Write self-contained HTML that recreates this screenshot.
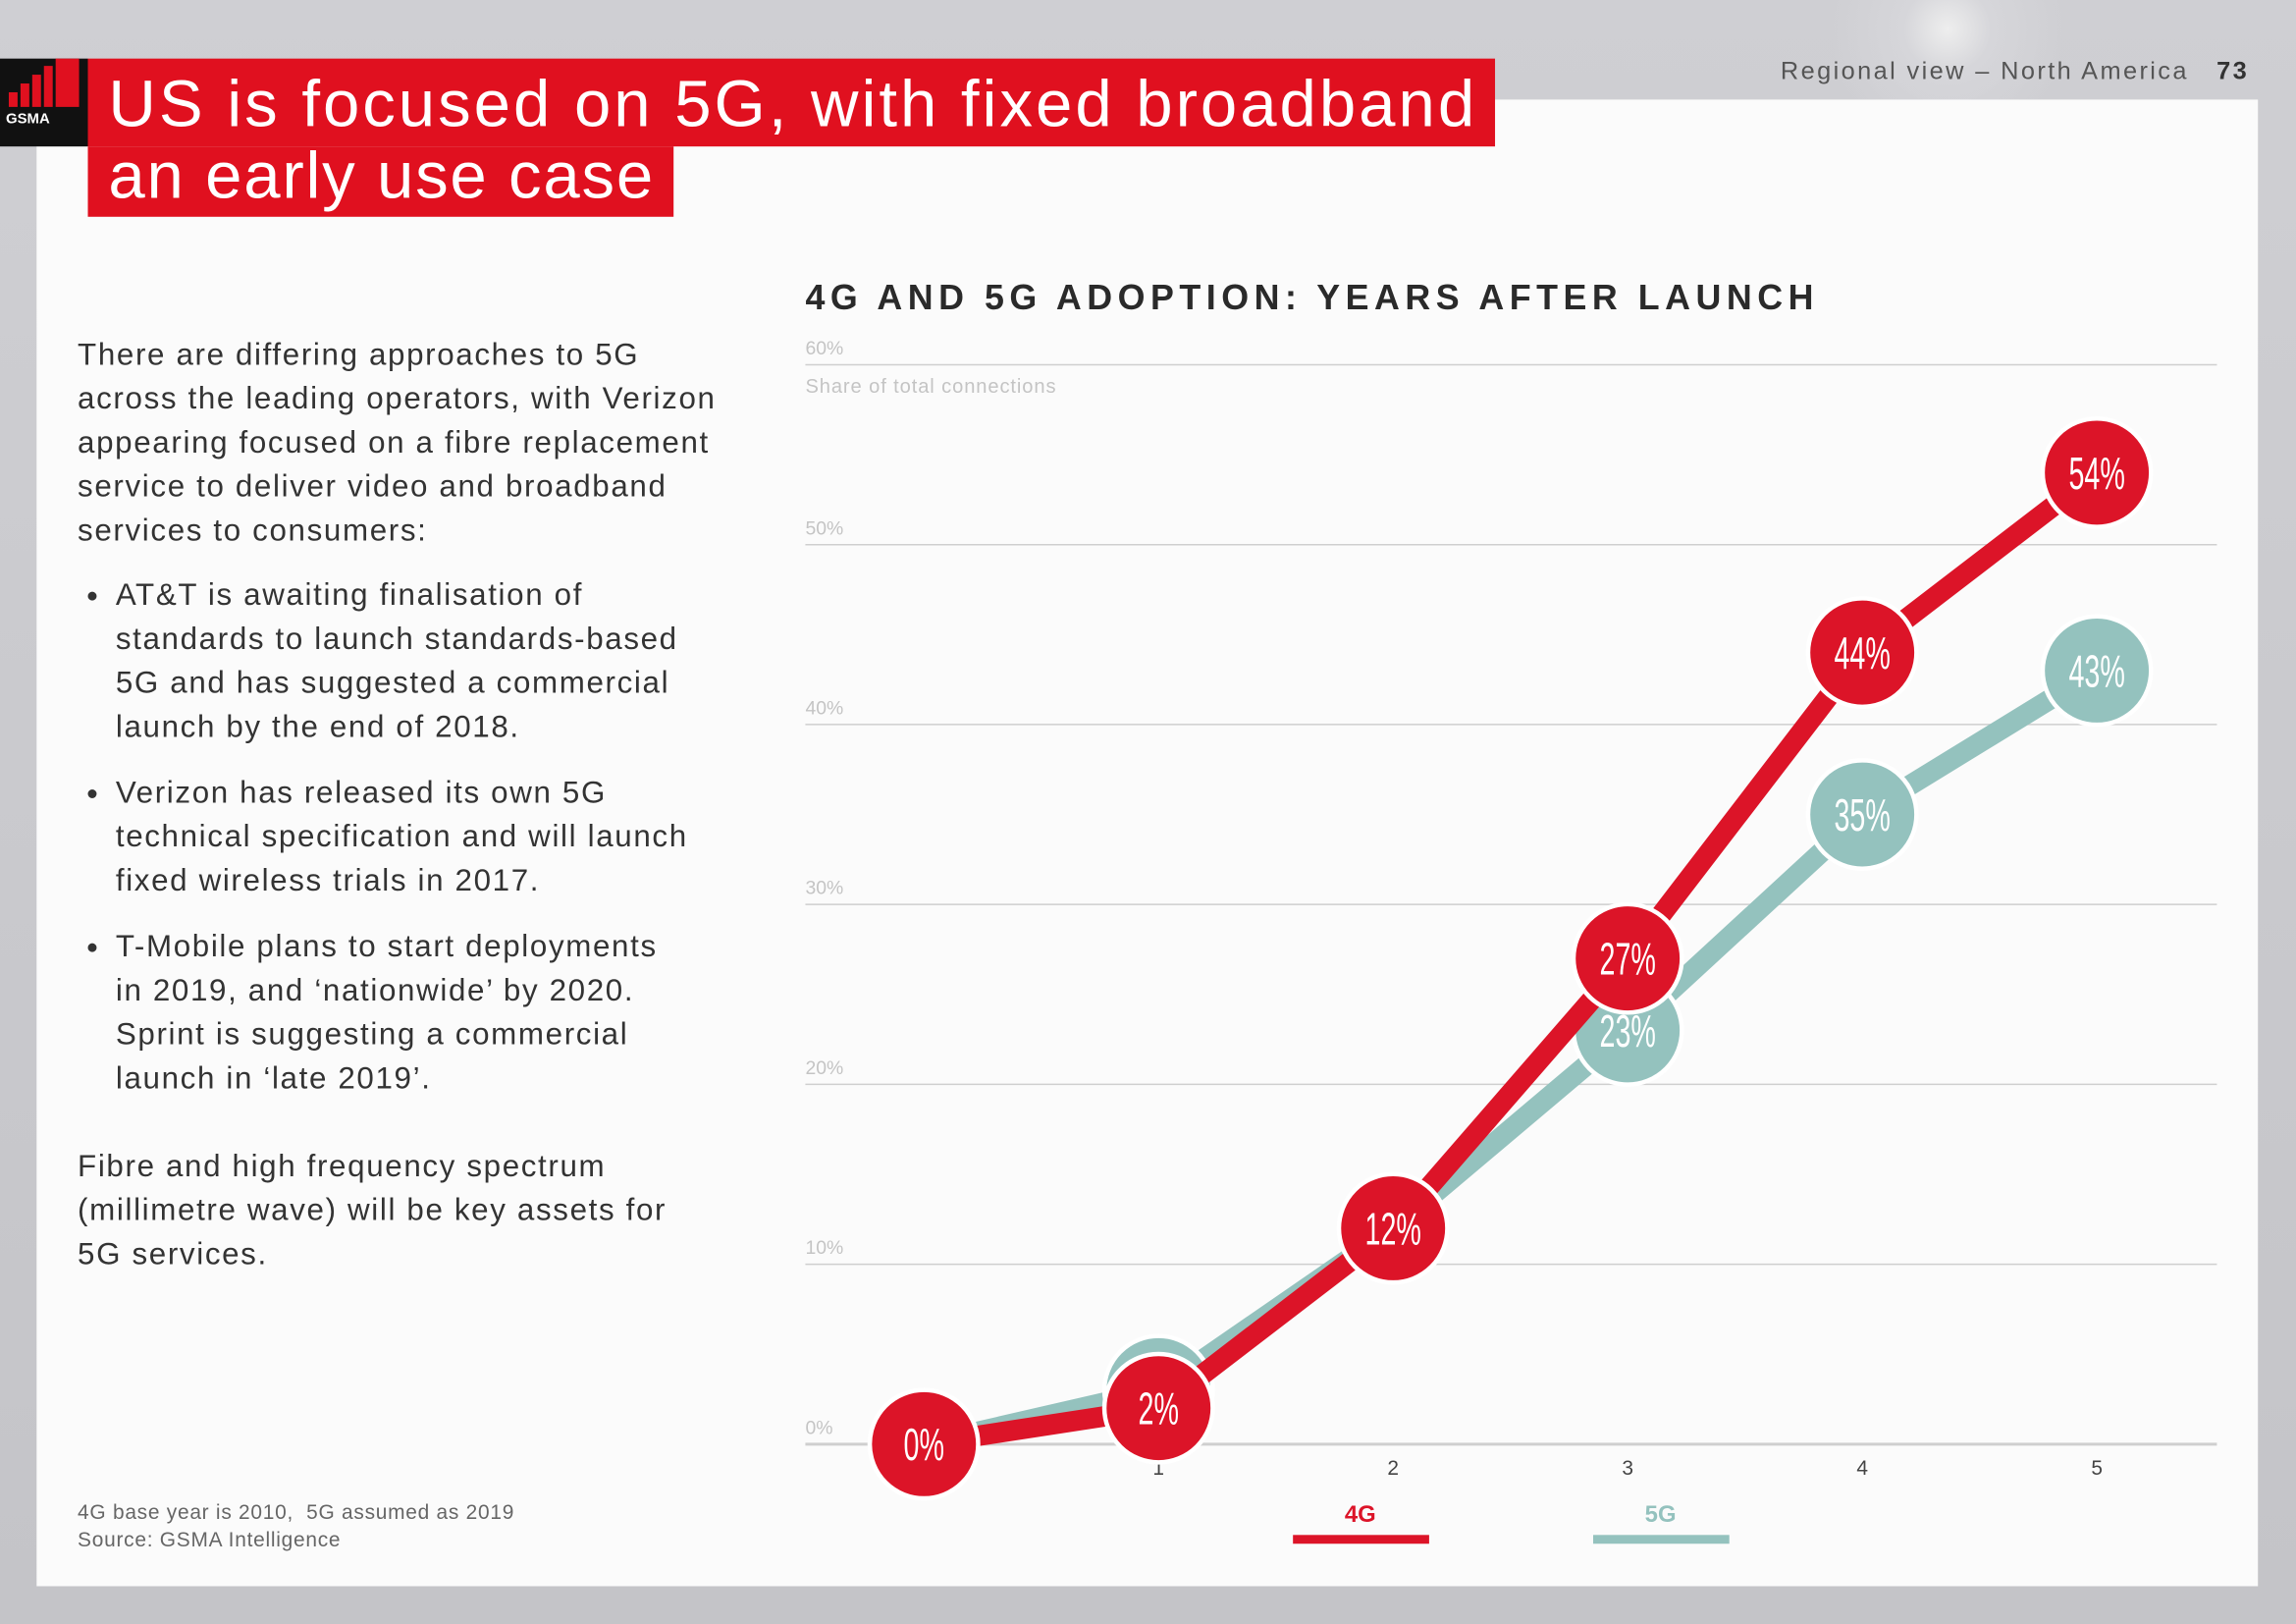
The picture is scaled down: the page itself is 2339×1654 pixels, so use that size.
<!DOCTYPE html>
<html><head><meta charset="utf-8"><style>
html,body{margin:0;padding:0;}
body{width:2339px;height:1654px;overflow:hidden;background:#c9c9cd;}
#stage{position:absolute;left:0;top:0;width:1568px;height:1109px;transform:scale(1.49171);transform-origin:0 0;font-family:"Liberation Sans",sans-serif;
background:radial-gradient(circle at 1330px 20px,#eee 0,#d6d6da 30px,rgba(0,0,0,0) 80px),linear-gradient(#cfcfd3,#c4c4c8);}
.abs{position:absolute;}
#panel{left:25px;top:68px;width:1517px;height:1015px;background:#fbfbfb;}
.t{color:#fff;font-size:45px;font-weight:300;white-space:nowrap;line-height:50px;letter-spacing:2px;}
#body p{margin:0;}
#body{left:53px;top:228px;width:480px;font-size:21px;line-height:30px;color:#333;white-space:nowrap;letter-spacing:1.1px;}
ul{margin:14px 0 0 0;padding-left:26px;}
li{margin-bottom:15px;}
</style></head><body>
<div id="stage">
<div class="abs" id="panel"></div>
<div class="abs" style="left:0;top:40px;width:60px;height:60px;background:#111">
 <div class="abs" style="left:4px;top:36px;color:#fff;font-size:10px;font-weight:bold">GSMA</div>
 <div class="abs" style="left:6px;top:23px;width:6px;height:10px;background:#e0101f"></div>
 <div class="abs" style="left:14px;top:17px;width:6px;height:16px;background:#e0101f"></div>
 <div class="abs" style="left:22px;top:11px;width:6px;height:22px;background:#e0101f"></div>
 <div class="abs" style="left:30px;top:5px;width:6px;height:28px;background:#e0101f"></div>
 <div class="abs" style="left:38px;top:0px;width:16px;height:33px;background:#e0101f"></div>
</div>
<div class="abs" style="left:60px;top:40px;width:961px;height:60px;background:#e0101f"><div class="abs t" style="left:14px;top:6px">US is focused on 5G, with fixed broadband</div></div>
<div class="abs" style="left:60px;top:100px;width:400px;height:48px;background:#e0101f"><div class="abs t" style="left:14px;top:-5px;letter-spacing:1.2px">an early use case</div></div>
<div class="abs" style="left:1216px;top:39px;font-size:17px;color:#555;white-space:nowrap;letter-spacing:1.6px">Regional view – North America &nbsp;&nbsp;<b style="color:#333">73</b></div>

<div class="abs" id="body">
<p>There are differing approaches to 5G<br>across the leading operators, with Verizon<br>appearing focused on a fibre replacement<br>service to deliver video and broadband<br>services to consumers:</p>
<ul>
<li>AT&amp;T is awaiting finalisation of<br>standards to launch standards-based<br>5G and has suggested a commercial<br>launch by the end of 2018.</li>
<li>Verizon has released its own 5G<br>technical specification and will launch<br>fixed wireless trials in 2017.</li>
<li>T-Mobile plans to start deployments<br>in 2019, and ‘nationwide’ by 2020.<br>Sprint is suggesting a commercial<br>launch in ‘late 2019’.</li>
</ul>
<p style="margin-top:30px">Fibre and high frequency spectrum<br>(millimetre wave) will be key assets for<br>5G services.</p>
</div>
<div class="abs" style="left:53px;top:1023px;font-size:14px;line-height:19px;color:#666;letter-spacing:0.5px">4G base year is 2010,&nbsp; 5G assumed as 2019<br>Source: GSMA Intelligence</div>

<div class="abs" style="left:550px;top:190px;font-size:24px;font-weight:bold;letter-spacing:3.7px;color:#2a2a2a;white-space:nowrap">4G AND 5G ADOPTION: YEARS AFTER LAUNCH</div>

<svg class="abs" style="left:0;top:0" width="1568" height="1109" id="chart"></svg>
</div>
<script>
const years=[0,1,2,3,4,5];
const values4G=[0,2,12,27,44,54];
const values5G=[0,3,12,23,35,43];
const labels4G=["0%","2%","12%","27%","44%","54%"];
const labels5G=["","","","23%","35%","43%"];
const yTicks=[0,10,20,30,40,50,60];
const xTickLabels=["","1","2","3","4","5"];
const svg=document.getElementById('chart');
const NS='http://www.w3.org/2000/svg';
const X=v=>631+v*160.2, Y=v=>986-v*12.283;
function mk(t,a){const e=document.createElementNS(NS,t);for(const k in a)e.setAttribute(k,a[k]);svg.appendChild(e);return e;}
yTicks.forEach(v=>{
 const l=mk('line',{x1:550,x2:1514,y1:Y(v),y2:Y(v),stroke:'#cfcfcf','stroke-width':v===0?2:1});
 
 
 const t=mk('text',{x:550,y:Y(v)-7,'font-size':13,fill:'#c4c4c4','font-family':'Liberation Sans'});t.textContent=v+'%';
 
 
});
const st=mk('text',{x:550,y:268,'font-size':13.5,fill:'#c4c4c4','font-family':'Liberation Sans','letter-spacing':0.6});st.textContent='Share of total connections';


years.forEach((v,i)=>{const t=mk('text',{x:X(v),y:1007,'font-size':14,fill:'#444','text-anchor':'middle','font-family':'Liberation Sans'});t.textContent=xTickLabels[i];
 
 });
function series(vals,labs,col,name){
 const pts=years.map((v,i)=>X(v)+','+Y(vals[i])).join(' ');
 const p=mk('polyline',{points:pts,fill:'none',stroke:col,'stroke-width':14,'stroke-linejoin':'miter'});
 
 
 years.forEach((v,i)=>{
  const c=mk('circle',{cx:X(v),cy:Y(vals[i]),r:37,fill:col,stroke:'#fff','stroke-width':3});
  
  
  if(labs[i]){const t=mk('text',{x:0,y:0,'font-size':31,fill:'#fff','text-anchor':'middle','font-family':'Liberation Sans',transform:`translate(${X(v)},${Y(vals[i])+11}) scale(0.62,1)`});t.textContent=labs[i];
  
  }
 });
}
series(values5G,labels5G,'#94c2be','5g');
series(values4G,labels4G,'#dc1428','4g');
const lg=[['4G','#dc1428',929],['5G','#94c2be',1134]];
lg.forEach(([n,c,x])=>{
 const t=mk('text',{x:x,y:1039,'font-size':16,fill:c,'text-anchor':'middle','font-weight':'bold','font-family':'Liberation Sans'});t.textContent=n;
 
 
 const r=mk('rect',{x:x-46,y:1048,width:93,height:6,fill:c});
 
 
});
</script>
</body></html>
